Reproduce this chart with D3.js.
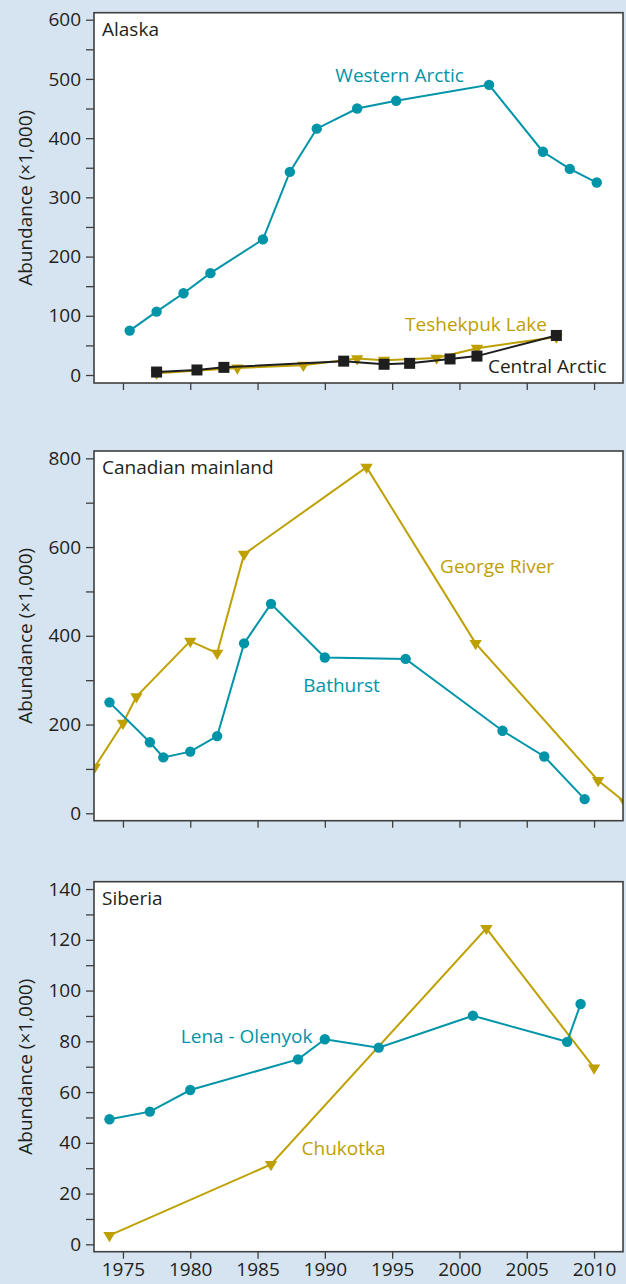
<!DOCTYPE html>
<html>
<head>
<meta charset="utf-8">
<script src="https://cdn.jsdelivr.net/npm/d3@7"></script>
<style>
  body { margin: 0; background: #d6e4f1; }
  svg { display: block; font-family: "Open Sans", sans-serif; }
</style>
</head>
<body>
<svg id="chart" width="626" height="1284"></svg>
<script>
// ---- Data -------------------------------------------------------------
// Year ticks shared by the three panels (labels only on the bottom one)
const yearTicks = [1975, 1980, 1985, 1990, 1995, 2000, 2005, 2010];

// Alaska herds (abundance, thousands)
const westernArcticYears  = [1975.5, 1977.5, 1979.5, 1981.5, 1985.4, 1987.4, 1989.4, 1992.4, 1995.3, 2002.2, 2006.2, 2008.2, 2010.2];
const westernArcticValues = [75, 107, 138, 172, 229, 343, 416, 450, 463, 490, 377, 348, 325];
const teshekpukYears      = [1977.5, 1983.5, 1988.4, 1992.4, 1994.4, 1998.3, 2001.3, 2007.2];
const teshekpukValues     = [3, 11.8, 16.6, 27.7, 25.1, 28.6, 45.2, 64.1];
const centralArcticYears  = [1977.5, 1980.5, 1982.5, 1991.4, 1994.4, 1996.3, 1999.3, 2001.3, 2007.2];
const centralArcticValues = [5, 8.5, 12.9, 23.4, 18.1, 19.7, 27.1, 31.9, 66.8];

// Canadian mainland herds
const georgeRiverYears  = [1972.9, 1975, 1976, 1980, 1982, 1984, 1993.1, 2001.2, 2010.3, 2012.3];
const georgeRiverValues = [104, 203, 263, 388, 361, 584, 780, 383, 74, 25];
const bathurstYears     = [1974, 1977, 1978, 1980, 1982, 1984, 1986, 1990, 1996, 2003.2, 2006.3, 2009.3];
const bathurstValues    = [250, 160, 126, 139, 174, 383, 472, 351, 348, 186, 128, 32];

// Siberian herds
const chukotkaYears    = [1974, 1986, 2002, 2010];
const chukotkaValues   = [3.5, 31.5, 124.5, 69.5];
const lenaOlenyokYears  = [1974, 1977, 1980, 1988, 1990, 1994, 2001, 2008, 2009];
const lenaOlenyokValues = [49.3, 52.3, 60.8, 72.9, 80.8, 77.5, 90.1, 79.8, 94.7];

// ---- Styling ------------------------------------------------------------
const TEAL = "#0094a8";
const GOLD = "#bea000";
const DARK = "#1e1e1e";
const INK = "#231f20";
const FRAME = "#3f3f3f";

const zip = (xs, ys) => xs.map((d, i) => ({ year: d, value: ys[i] }));

const panels = [
  {
    title: "Alaska", top: 12.7, bottom: 383, domain: [-13.5, 611.8],
    max: 600, labelStep: 100, minorStep: 50,
    series: [
      { data: zip(westernArcticYears, westernArcticValues), color: TEAL, marker: "circle" },
      { data: zip(teshekpukYears, teshekpukValues), color: GOLD, marker: "triangle" },
      { data: zip(centralArcticYears, centralArcticValues), color: DARK, marker: "square" }
    ],
    labels: [
      { text: "Western Arctic", year: 1990.78, value: 494, color: TEAL },
      { text: "Teshekpuk Lake", year: 1995.96, value: 74.8, color: GOLD },
      { text: "Central Arctic", year: 2002.12, value: 3.9, color: INK }
    ]
  },
  {
    title: "Canadian mainland", top: 451, bottom: 820.7, domain: [-16.7, 816.5],
    max: 800, labelStep: 200, minorStep: 100,
    series: [
      { data: zip(georgeRiverYears, georgeRiverValues), color: GOLD, marker: "triangle" },
      { data: zip(bathurstYears, bathurstValues), color: TEAL, marker: "circle" }
    ],
    labels: [
      { text: "George River", year: 1998.56, value: 540.8, color: GOLD },
      { text: "Bathurst", year: 1988.4, value: 274, color: TEAL }
    ]
  },
  {
    title: "Siberia", top: 881.7, bottom: 1251.7, domain: [-2.9, 142.9],
    max: 140, labelStep: 20, minorStep: 10, yearLabels: true,
    series: [
      { data: zip(chukotkaYears, chukotkaValues), color: GOLD, marker: "triangle" },
      { data: zip(lenaOlenyokYears, lenaOlenyokValues), color: TEAL, marker: "circle" }
    ],
    labels: [
      { text: "Lena - Olenyok", year: 1979.3, value: 79.5, color: TEAL },
      { text: "Chukotka", year: 1988.27, value: 35.2, color: GOLD }
    ]
  }
];

// ---- Drawing ------------------------------------------------------------
const svg = d3.select("#chart");
svg.append("rect").attr("width", 626).attr("height", 1284).attr("fill", "#d6e4f1");

const frameLeft = 94, frameRight = 623;
const x = d3.scaleLinear().domain([1972.85, 2012.15]).range([frameLeft, frameRight]);

// downward-pointing triangle marker, centred on its centroid
const trianglePath = "M-6.2,-3.4L6.2,-3.4L0,6.8Z";

panels.forEach((p, pi) => {
  const y = d3.scaleLinear().domain(p.domain).range([p.bottom, p.top]);
  const g = svg.append("g");

  // plot area
  g.append("rect")
    .attr("x", frameLeft).attr("y", p.top)
    .attr("width", frameRight - frameLeft).attr("height", p.bottom - p.top)
    .attr("fill", "#fff");

  const clipId = "clip" + pi;
  svg.append("clipPath").attr("id", clipId)
    .append("rect")
    .attr("x", frameLeft).attr("y", p.top)
    .attr("width", frameRight - frameLeft).attr("height", p.bottom - p.top);

  // y axis
  const yAxis = d3.axisLeft(y)
    .tickValues(d3.range(0, p.max + 1, p.minorStep))
    .tickFormat(d => d % p.labelStep === 0 ? d : "")
    .tickSize(8).tickPadding(5);
  const ya = g.append("g").attr("transform", `translate(${frameLeft},0)`).call(yAxis);
  ya.select(".domain").remove();
  ya.selectAll("line").attr("stroke", FRAME).attr("stroke-width", 1.3);
  ya.selectAll("text").attr("fill", INK).style("font-size", "19px").style("font-family", "Open Sans");

  // x axis
  const xAxis = d3.axisBottom(x)
    .tickValues(yearTicks)
    .tickFormat(d => p.yearLabels ? d3.format("d")(d) : "")
    .tickSize(7).tickPadding(4);
  const xa = g.append("g").attr("transform", `translate(0,${p.bottom})`).call(xAxis);
  xa.select(".domain").remove();
  xa.selectAll("line").attr("stroke", FRAME).attr("stroke-width", 1.3);
  xa.selectAll("text").attr("fill", INK).style("font-size", "19px").style("font-family", "Open Sans");

  // y axis title
  g.append("text")
    .attr("transform", `translate(32,${(p.top + p.bottom) / 2}) rotate(-90)`)
    .attr("text-anchor", "middle")
    .attr("fill", INK)
    .style("font-size", "19px")
    .text("Abundance (\u00d71,000)");

  // series
  const plot = g.append("g").attr("clip-path", `url(#${clipId})`);
  const line = d3.line().x(d => x(d.year)).y(d => y(d.value));
  p.series.forEach(s => {
    plot.append("path")
      .datum(s.data)
      .attr("d", line)
      .attr("fill", "none")
      .attr("stroke", s.color)
      .attr("stroke-width", 2);
    const m = plot.append("g").selectAll("g")
      .data(s.data).join("g")
      .attr("transform", d => `translate(${x(d.year)},${y(d.value)})`)
      .attr("fill", s.color);
    if (s.marker === "circle") m.append("circle").attr("r", 5.2);
    else if (s.marker === "square") m.append("rect").attr("x", -5.5).attr("y", -5.5).attr("width", 11).attr("height", 11);
    else m.append("path").attr("d", trianglePath);
  });

  // frame
  g.append("rect")
    .attr("x", frameLeft).attr("y", p.top)
    .attr("width", frameRight - frameLeft).attr("height", p.bottom - p.top)
    .attr("fill", "none").attr("stroke", FRAME).attr("stroke-width", 1.6);

  // panel title
  g.append("text")
    .attr("x", frameLeft + 8).attr("y", p.top + 23)
    .attr("fill", INK).style("font-size", "19px")
    .text(p.title);

  // series labels
  p.labels.forEach(l => {
    g.append("text")
      .attr("x", x(l.year)).attr("y", y(l.value))
      .attr("fill", l.color).style("font-size", "19px")
      .text(l.text);
  });
});
</script>
</body>
</html>
